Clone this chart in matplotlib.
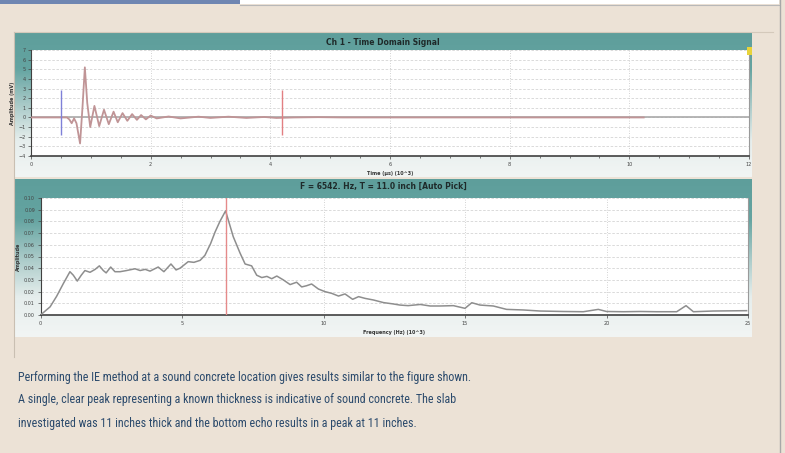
import numpy as np
import matplotlib.pyplot as plt
from matplotlib import font_manager
from matplotlib.colors import LinearSegmentedColormap
from matplotlib.patches import Rectangle
from matplotlib.lines import Line2D

# time domain signal (ms, mV)
t_sig = [0.0, 0.60, 0.64, 0.68, 0.72, 0.76, 0.82, 0.86, 0.90, 0.94, 0.99, 1.06, 1.14,
         1.22, 1.30, 1.38, 1.45, 1.53, 1.61, 1.69, 1.77, 1.84, 1.92, 2.00, 2.10, 2.30,
         2.50, 2.80, 3.00, 3.30, 3.60, 3.90, 4.10, 4.40, 4.80, 5.20, 6.00, 7.00, 8.00,
         9.00, 10.24]
a_sig = [0.0, 0.0, -0.2, -0.6, -0.1, -0.6, -2.7, 1.0, 5.2, 1.5, -1.0, 1.2, -0.9,
         0.8, -0.7, 0.6, -0.5, 0.45, -0.35, 0.35, -0.25, 0.25, -0.2, 0.2, -0.1, 0.1,
         -0.1, 0.08, -0.05, 0.08, -0.05, 0.05, -0.05, 0.0, 0.03, 0.0, 0.0, 0.0, 0.0,
         0.0, 0.0]
t_trig = 0.5
t_echo = 4.2

# spectrum (kHz, amplitude)
freq = [0.0, 0.34, 0.57, 0.81, 1.04, 1.16, 1.30, 1.44, 1.57, 1.75, 1.93, 2.08, 2.22,
        2.32, 2.48, 2.63, 2.81, 3.04, 3.34, 3.52, 3.70, 3.87, 4.16, 4.36, 4.61, 4.79,
        4.93, 5.22, 5.42, 5.64, 5.81, 6.01, 6.17, 6.34, 6.54, 6.81, 7.05, 7.23, 7.46,
        7.64, 7.82, 8.00, 8.17, 8.35, 8.58, 8.82, 9.05, 9.23, 9.40, 9.58, 9.82, 10.05,
        10.29, 10.53, 10.76, 11.03, 11.24, 11.47, 11.77, 12.12, 12.45, 12.70, 12.99,
        13.42, 13.77, 14.12, 14.59, 15.00, 15.24, 15.53, 16.00, 16.47, 17.06, 17.65,
        18.47, 19.18, 19.71, 20.00, 20.60, 21.20, 21.77, 22.48, 22.81, 23.07, 23.77,
        24.95]
amp = [0.0, 0.007, 0.016, 0.027, 0.037, 0.034, 0.029, 0.034, 0.038, 0.0365, 0.039,
       0.042, 0.038, 0.036, 0.041, 0.037, 0.037, 0.038, 0.0395, 0.038, 0.039, 0.0375,
       0.041, 0.037, 0.0436, 0.0385, 0.040, 0.0456, 0.045, 0.0467, 0.051, 0.061, 0.071,
       0.080, 0.089, 0.067, 0.053, 0.0436, 0.042, 0.034, 0.032, 0.033, 0.031, 0.0333,
       0.030, 0.026, 0.028, 0.024, 0.025, 0.0265, 0.0222, 0.020, 0.0185, 0.0162, 0.018,
       0.0134, 0.0157, 0.0142, 0.0128, 0.0106, 0.0095, 0.0085, 0.0080, 0.009, 0.0077,
       0.0077, 0.0080, 0.0057, 0.0105, 0.0085, 0.0077, 0.0048, 0.0043, 0.0034, 0.003,
       0.0028, 0.0048, 0.003, 0.0028, 0.003, 0.0028, 0.0028, 0.008, 0.0028, 0.0034,
       0.0037]
f_peak = 6.542

title_top = "Ch 1 - Time Domain Signal"
title_bot = "F = 6542. Hz, T = 11.0 inch [Auto Pick]"
caption = ["Performing the IE method at a sound concrete location gives results similar to the figure shown.",
           "A single, clear peak representing a known thickness is indicative of sound concrete. The slab",
           "investigated was 11 inches thick and the bottom echo results in a peak at 11 inches."]

W, H = 785, 453
BG = "#ece2d6"
fig = plt.figure(figsize=(W / 100, H / 100), dpi=100, facecolor=BG)


def px_axes(x0, y0, x1, y1, **kw):
    return fig.add_axes([x0 / W, 1 - y1 / H, (x1 - x0) / W, (y1 - y0) / H], **kw)


def fig_rect(x0, y0, x1, y1, color, z=0):
    fig.patches.append(Rectangle((x0 / W, 1 - y1 / H), (x1 - x0) / W, (y1 - y0) / H,
                                 transform=fig.transFigure, color=color, zorder=z, lw=0))


def fig_line(x0, y0, x1, y1, color, lw=1.0):
    fig.lines.append(Line2D([x0 / W, x1 / W], [1 - y0 / H, 1 - y1 / H],
                            transform=fig.transFigure, color=color, lw=lw))


# page decoration
fig_rect(0, 0, 240, 4, "#6f86b2")
fig_rect(240, 0, 779, 4, "white")
fig_line(240, 4.5, 779, 4.5, "#b8b8b8", 0.8)
fig_line(779.5, 0, 779.5, H, "#a8a8a8", 1.0)
fig_line(14, 32, 773, 32, "#d4c9bb", 0.8)
fig_line(13.5, 32, 13.5, 357, "#c9bfb2", 0.8)

teal = LinearSegmentedColormap.from_list("teal", ["#5e9e9b", "#64a4a1", "#a9cac8", "#e6eeed", "#f2f5f4"])


def panel(y0, y1):
    bg = px_axes(14, y0, 752, y1)
    grad = np.linspace(0, 1, 200).reshape(-1, 1)
    bg.imshow(grad, aspect="auto", cmap=teal, extent=[0, 1, 0, 1], origin="upper")
    bg.set_axis_off()
    return bg


bg1 = panel(33, 177)
bg1.text(0.5, 0.935, title_top, ha="center", va="center", fontsize=5.5,
         fontweight="bold", color="#1f2a2a", transform=bg1.transAxes)
bg2 = panel(179, 337)
bg2.text(0.5, 0.955, title_bot, ha="center", va="center", fontsize=5.5,
         fontweight="bold", color="#1f2a2a", transform=bg2.transAxes)


def style(ax):
    ax.set_facecolor("white")
    ax.tick_params(labelsize=3.5, length=2, width=0.5, colors="#444444", pad=2)
    ax.spines["top"].set_visible(False)
    ax.spines["right"].set_color("#9a9a9a")
    ax.spines["left"].set_color("#404040")
    ax.spines["bottom"].set_color("#404040")
    ax.spines["bottom"].set_linewidth(1.2)
    ax.grid(axis="y", color="#d4d4d4", lw=0.6, ls=(0, (3, 2)))
    ax.grid(axis="x", color="#c4c4c4", lw=0.6, ls=(0, (1, 2)))
    ax.set_axisbelow(True)


# top: time domain
ax1 = px_axes(31, 50, 749, 156)
style(ax1)
ax1.set_xlim(0, 12)
ax1.set_ylim(-4, 7)
ax1.set_xticks([0, 2, 4, 6, 8, 10, 12])
ax1.set_xticks(np.arange(0, 12.01, 0.5), minor=True)
ax1.tick_params(which="minor", length=1.5, width=0.5, colors="#444444")
ax1.set_yticks(range(-4, 8))
ax1.axhline(0, color="#a9a9a9", lw=1.2, zorder=2)
ax1.plot(t_sig, a_sig, color="#c09496", lw=1.3, zorder=3)
ax1.vlines(t_trig, -1.8, 2.8, color="#7f80d8", lw=1.0, zorder=4)
ax1.vlines(t_echo, -1.8, 2.8, color="#e27f82", lw=1.0, zorder=4)
ax1.set_xlabel("Time (µs) (10^3)", fontsize=3.5, fontweight="bold", labelpad=3, color="#333333")
ax1.set_ylabel("Amplitude (mV)", fontsize=3.5, fontweight="bold", labelpad=2, color="#333333")
fig_rect(747, 47, 752, 55, "#e8d33a", z=5)

# bottom: spectrum
ax2 = px_axes(40.5, 198, 748, 315)
style(ax2)
ax2.set_xlim(0, 25)
ax2.set_ylim(0, 0.10)
ax2.set_xticks([0, 5, 10, 15, 20, 25])
ax2.set_yticks(np.arange(0, 0.101, 0.01))
ax2.set_yticklabels(["%.2f" % v for v in np.arange(0, 0.101, 0.01)])
ax2.plot(freq, amp, color="#8e8e8e", lw=1.1, zorder=3)
ax2.axvline(f_peak, color="#e58a8a", lw=1.0, zorder=4)
ax2.set_xlabel("Frequency (Hz) (10^3)", fontsize=3.5, fontweight="bold", labelpad=3, color="#333333")
ax2.set_ylabel("Amplitude", fontsize=3.5, fontweight="bold", labelpad=2, color="#333333")

# caption
names = {f.name for f in font_manager.fontManager.ttflist}
cap_font = "Liberation Sans"
for cand in ["Liberation Sans Narrow", "Roboto Condensed", "Open Sans Condensed", "DejaVu Sans Condensed"]:
    if cand in names:
        cap_font = cand
        break

ys = [377, 400, 424]
texts = []
for line, y in zip(caption, ys):
    texts.append(fig.text(18 / W, 1 - y / H, line, ha="left", va="center", fontsize=11,
                          color="#2b4a6c", family=cap_font))
renderer = fig.canvas.get_renderer()
w0 = texts[0].get_window_extent(renderer).width
scale = 452 / w0
for tx in texts:
    tx.set_fontsize(11 * scale)

fig.savefig("out.png", dpi=100, facecolor=BG)
